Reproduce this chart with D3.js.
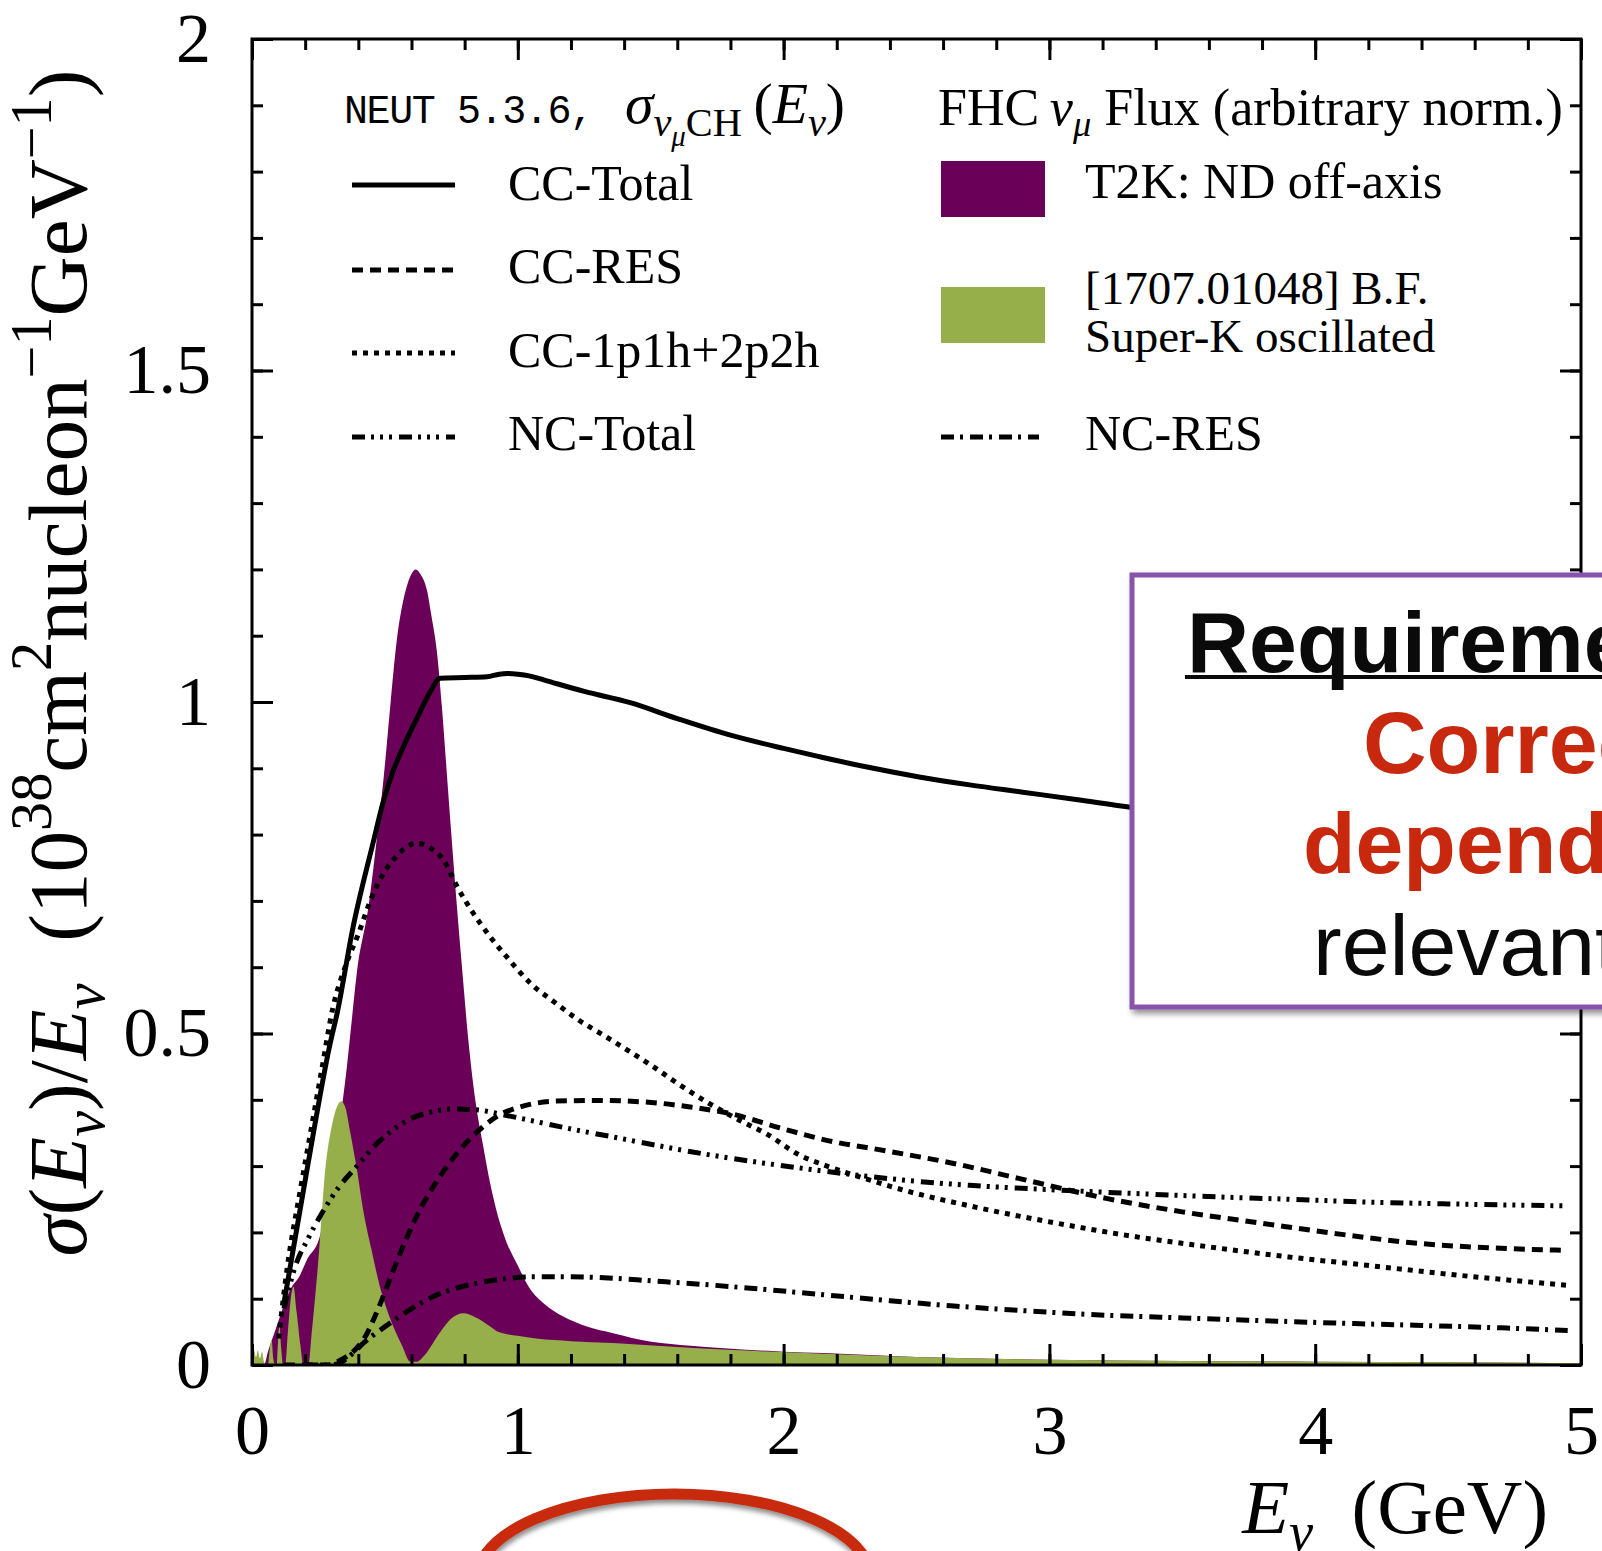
<!DOCTYPE html>
<html><head><meta charset="utf-8">
<script src="https://cdn.jsdelivr.net/npm/d3@7"></script>
<style>body{margin:0;background:#fff}svg{display:block}</style>
</head><body>
<svg id="c" width="1602" height="1551"></svg>
<script>
// ---------------- data (E in GeV, value in 1e-38 cm^2/nucleon/GeV) ----------------
const ccTotal = [[0.12,0.093],[0.205,0.29],[0.294,0.485],[0.32,0.53],[0.38,0.66],[0.457,0.79],[0.494,0.85],[0.53,0.895],[0.57,0.933],[0.62,0.975],[0.67,1.015],[0.708,1.036],[0.8,1.037],[0.884,1.038],[0.93,1.042],[0.96,1.043],[1.0,1.042],[1.047,1.039],[1.1,1.033],[1.25,1.016],[1.423,0.999],[1.6,0.975],[1.8,0.95],[2.0,0.93],[2.13,0.918],[2.3,0.903],[2.51,0.887],[2.7,0.875],[2.9,0.864],[3.1,0.853],[3.31,0.841],[3.6,0.83],[4.0,0.815],[4.5,0.8],[4.95,0.787]];
const ccRes = [[0.12,0.0],[0.2,0.0],[0.28,0.0],[0.335,0.008],[0.38,0.02],[0.422,0.04],[0.47,0.08],[0.522,0.133],[0.58,0.19],[0.638,0.239],[0.7,0.28],[0.753,0.31],[0.81,0.337],[0.868,0.359],[0.93,0.377],[0.998,0.388],[1.07,0.395],[1.142,0.398],[1.3,0.399],[1.502,0.396],[1.65,0.389],[1.79,0.38],[2.0,0.356],[2.15,0.34],[2.4,0.322],[2.64,0.304],[2.9,0.28],[3.218,0.251],[3.5,0.231],[3.795,0.214],[4.1,0.197],[4.374,0.184],[4.7,0.176],[4.95,0.173]];
const cc1p1h2p2h = [[0.1,0.04],[0.133,0.148],[0.18,0.26],[0.22,0.35],[0.26,0.44],[0.305,0.54],[0.35,0.6],[0.4,0.65],[0.45,0.705],[0.5,0.745],[0.545,0.768],[0.58,0.781],[0.62,0.787],[0.67,0.78],[0.72,0.762],[0.771,0.722],[0.83,0.683],[0.896,0.646],[0.97,0.61],[1.047,0.576],[1.142,0.546],[1.23,0.52],[1.32,0.498],[1.42,0.473],[1.502,0.452],[1.6,0.425],[1.718,0.395],[1.83,0.37],[1.934,0.349],[2.063,0.316],[2.15,0.302],[2.3,0.282],[2.449,0.264],[2.7,0.24],[3.026,0.214],[3.3,0.195],[3.603,0.178],[3.9,0.163],[4.18,0.151],[4.5,0.137],[4.95,0.12]];
const ncTotal = [[0.12,0.085],[0.162,0.148],[0.21,0.19],[0.263,0.229],[0.33,0.27],[0.393,0.299],[0.46,0.33],[0.522,0.352],[0.6,0.372],[0.668,0.381],[0.75,0.386],[0.84,0.385],[0.95,0.377],[1.07,0.367],[1.2,0.356],[1.358,0.344],[1.5,0.333],[1.647,0.322],[1.8,0.312],[1.934,0.304],[2.063,0.297],[2.2,0.29],[2.449,0.279],[2.7,0.271],[3.026,0.264],[3.3,0.259],[3.603,0.254],[3.9,0.25],[4.18,0.246],[4.5,0.243],[4.95,0.24]];
const ncRes = [[0.2,0.0],[0.3,0.0],[0.335,0.004],[0.38,0.018],[0.422,0.034],[0.48,0.052],[0.537,0.068],[0.6,0.085],[0.68,0.103],[0.77,0.116],[0.854,0.124],[0.95,0.13],[1.07,0.133],[1.2,0.133],[1.358,0.131],[1.5,0.127],[1.647,0.123],[1.9,0.115],[2.15,0.106],[2.4,0.097],[2.64,0.089],[2.9,0.082],[3.218,0.075],[3.5,0.071],[3.795,0.067],[4.1,0.063],[4.374,0.06],[4.7,0.056],[4.95,0.052]];
const fluxT2K = [[0,0],[0.045,0],[0.06,0.02],[0.09,0.055],[0.118,0.088],[0.143,0.113],[0.18,0.135],[0.206,0.158],[0.256,0.195],[0.28,0.24],[0.306,0.3],[0.33,0.365],[0.357,0.45],[0.378,0.53],[0.394,0.59],[0.438,0.691],[0.469,0.792],[0.497,0.893],[0.52,0.993],[0.545,1.094],[0.565,1.145],[0.582,1.174],[0.6,1.193],[0.616,1.2],[0.635,1.192],[0.658,1.169],[0.675,1.13],[0.695,1.078],[0.715,0.99],[0.733,0.892],[0.75,0.8],[0.771,0.691],[0.79,0.6],[0.814,0.49],[0.84,0.40],[0.87,0.33],[0.896,0.274],[0.925,0.225],[0.954,0.189],[1.0,0.15],[1.041,0.118],[1.1,0.092],[1.171,0.073],[1.26,0.058],[1.358,0.048],[1.502,0.035],[1.65,0.029],[1.79,0.025],[2.0,0.02],[2.15,0.018],[2.5,0.012],[3.0,0.008],[3.5,0.006],[4.0,0.005],[4.5,0.004],[5.0,0.003]];
const fluxSK = [[0,0.015],[0.008,0.022],[0.015,0.012],[0.022,0.022],[0.03,0.01],[0.038,0.02],[0.045,0.005],[0.052,0.0],[0.06,0.0],[0.067,0.025],[0.074,0.038],[0.08,0.01],[0.087,0.0],[0.093,0.0],[0.098,0.035],[0.103,0.06],[0.11,0.025],[0.117,0.0],[0.125,0.0],[0.135,0.05],[0.146,0.1],[0.156,0.118],[0.168,0.08],[0.182,0.03],[0.193,0.0],[0.212,0.0],[0.225,0.05],[0.248,0.15],[0.277,0.3],[0.3,0.36],[0.32,0.39],[0.335,0.398],[0.35,0.39],[0.37,0.35],[0.393,0.299],[0.42,0.23],[0.45,0.173],[0.48,0.12],[0.508,0.083],[0.54,0.05],[0.566,0.028],[0.595,0.005],[0.62,0.005],[0.65,0.015],[0.7,0.045],[0.75,0.07],[0.795,0.078],[0.84,0.072],[0.9,0.057],[0.926,0.05],[1.0,0.044],[1.07,0.04],[1.2,0.036],[1.358,0.033],[1.6,0.027],[1.79,0.023],[2.15,0.017],[2.5,0.012],[3.0,0.008],[3.5,0.006],[4.0,0.005],[4.5,0.004],[5.0,0.003]];

const xMajorTicks = [0,1,2,3,4,5];
const yMajorTicks = [0,0.5,1,1.5,2];
const xMinorStep = 0.2, yMinorStep = 0.1;

const lineSeries = [
  {name:"CC-Total", data:ccTotal, dash:null},
  {name:"CC-RES", data:ccRes, dash:"11,7"},
  {name:"CC-1p1h+2p2h", data:cc1p1h2p2h, dash:"5,6"},
  {name:"NC-Total", data:ncTotal, dash:"13,6,3,6,3,6,3,7"},
  {name:"NC-RES", data:ncRes, dash:"13,6,3,7"}
];
const fluxSeries = [
  {name:"T2K: ND off-axis", data:fluxT2K, color:"#6b0058"},
  {name:"Super-K oscillated", data:fluxSK, color:"#97af4a"}
];

// ---------------- setup ----------------
const W=1602, H=1551;
const SERIF="'Liberation Serif','Times New Roman',serif";
const SANS="'Liberation Sans',Arial,sans-serif";
const MONO="'Liberation Mono','DejaVu Sans Mono',monospace";
const M={l:252,r:1581,t:39,b:1365};
const svg=d3.select('#c');
const x=d3.scaleLinear().domain([0,5]).range([M.l,M.r]);
const y=d3.scaleLinear().domain([0,2]).range([M.b,M.t]);

const defs=svg.append('defs');
defs.append('clipPath').attr('id','plotclip').append('rect')
  .attr('x',M.l).attr('y',M.t).attr('width',M.r-M.l).attr('height',M.b-M.t);
const f1=defs.append('filter').attr('id','shadow').attr('x','-10%').attr('y','-10%').attr('width','130%').attr('height','130%');
f1.append('feDropShadow').attr('dx',3).attr('dy',4).attr('stdDeviation',3).attr('flood-color','#000').attr('flood-opacity',0.45);
const f2=defs.append('filter').attr('id','shadow2').attr('x','-10%').attr('y','-20%').attr('width','130%').attr('height','160%');
f2.append('feDropShadow').attr('dx',1).attr('dy',4).attr('stdDeviation',2.5).attr('flood-color','#000').attr('flood-opacity',0.45);

// ---------------- flux areas ----------------
const area=d3.area().x(d=>x(d[0])).y0(y(0)).y1(d=>y(d[1])).curve(d3.curveMonotoneX);
const plot=svg.append('g').attr('clip-path','url(#plotclip)');
plot.selectAll('path.flux').data(fluxSeries).join('path').attr('class','flux')
  .attr('d',d=>area(d.data)).attr('fill',d=>d.color).attr('stroke','none');

// ---------------- lines ----------------
const line=d3.line().x(d=>x(d[0])).y(d=>y(d[1])).curve(d3.curveMonotoneX);
plot.selectAll('path.xs').data(lineSeries).join('path').attr('class','xs')
  .attr('d',d=>line(d.data)).attr('fill','none').attr('stroke','#000')
  .attr('stroke-width',5).attr('stroke-dasharray',d=>d.dash).attr('stroke-linecap','butt').attr('stroke-linejoin','round');

// ---------------- axes ----------------
const xMinor=d3.range(0,5+1e-9,xMinorStep).map(v=>+v.toFixed(2));
const yMinor=d3.range(0,2+1e-9,yMinorStep).map(v=>+v.toFixed(2));
function styleAxis(g){
  g.select('.domain').remove();
  g.selectAll('line').attr('stroke','#000').attr('stroke-width',3);
  g.selectAll('text').attr('font-family',SERIF).attr('font-size',70).attr('fill','#000');
}
svg.append('g').attr('transform',`translate(0,${M.b})`).call(d3.axisBottom(x).tickValues(xMinor).tickSize(-11).tickFormat('')).call(styleAxis);
svg.append('g').attr('transform',`translate(0,${M.b})`).call(d3.axisBottom(x).tickValues(xMajorTicks).tickSize(-21).tickPadding(39).tickFormat(d=>String(d))).call(styleAxis);
svg.append('g').attr('transform',`translate(0,${M.t})`).call(d3.axisTop(x).tickValues(xMinor).tickSize(-11).tickFormat('')).call(styleAxis);
svg.append('g').attr('transform',`translate(0,${M.t})`).call(d3.axisTop(x).tickValues(xMajorTicks).tickSize(-21).tickFormat('')).call(styleAxis);
svg.append('g').attr('transform',`translate(${M.l},0)`).call(d3.axisLeft(y).tickValues(yMinor).tickSize(-11).tickFormat('')).call(styleAxis);
svg.append('g').attr('transform',`translate(${M.l},0)`).call(d3.axisLeft(y).tickValues(yMajorTicks).tickSize(-21).tickPadding(41).tickFormat(d=>String(d))).call(styleAxis);
svg.append('g').attr('transform',`translate(${M.r},0)`).call(d3.axisRight(y).tickValues(yMinor).tickSize(-11).tickFormat('')).call(styleAxis);
svg.append('g').attr('transform',`translate(${M.r},0)`).call(d3.axisRight(y).tickValues(yMajorTicks).tickSize(-21).tickFormat('')).call(styleAxis);
svg.append('rect').attr('x',M.l).attr('y',M.t).attr('width',M.r-M.l).attr('height',M.b-M.t)
  .attr('fill','none').attr('stroke','#000').attr('stroke-width',3);

// ---------------- rich text helper ----------------
function rich(sel, parts, fs){
  sel.selectAll('tspan').remove();
  let cur=0;
  parts.forEach(p=>{
    const l=p.l||0;
    const shift = l===1?0.22*fs : l===2?0.40*fs : l===-1?-0.42*fs : 0;
    const size = l===0?fs : l===2?0.5*fs : 0.7*fs;
    const t=sel.append('tspan').text(p.t).attr('dy',shift-cur).attr('font-size',size)
      .attr('font-style',p.i?'italic':'normal');
    if(p.f) t.attr('font-family',p.f);
    cur=shift;
  });
}
function fitRich(sel, parts, fs0, target){
  rich(sel, parts, fs0);
  const w=sel.node().getBBox().width;
  rich(sel, parts, fs0*target/w);
}

// y-axis title
const yl=svg.append('text').attr('transform','translate(86,663) rotate(-90)')
  .attr('text-anchor','middle').attr('font-family',SERIF).attr('fill','#000');
fitRich(yl,[{t:'σ',i:1},{t:'('},{t:'E',i:1},{t:'ν',i:1,l:1},{t:')/'},{t:'E',i:1},{t:'ν',i:1,l:1},
  {t:'\u2002(10'},{t:'38',l:-1},{t:'cm'},{t:'2',l:-1},{t:'nucleon'},{t:'−1',l:-1},{t:'GeV'},{t:'−1',l:-1},{t:')'}],72,1187);

// x-axis title
const xl=svg.append('text').attr('x',1548).attr('y',1533).attr('text-anchor','end')
  .attr('font-family',SERIF).attr('fill','#000');
fitRich(xl,[{t:'E',i:1},{t:'ν',i:1,l:1},{t:'\u2002(GeV)'}],70,307);

// ---------------- legend ----------------
const LFS=50;
svg.append('text').attr('x',344).attr('y',123).attr('font-family',MONO).attr('font-size',40)
  .attr('letter-spacing',-1.4).attr('fill','#000').attr('xml:space','preserve').text('NEUT 5.3.6,');
const lh=svg.append('text').attr('x',625).attr('y',123).attr('font-family',SERIF).attr('fill','#000');
fitRich(lh,[{t:'σ',i:1},{t:'ν',i:1,l:1},{t:'μ',i:1,l:2},{t:'CH',l:1},{t:'\u2009(',l:0},{t:'E',i:1},{t:'ν',i:1,l:1},{t:')'}],48,220);

const legLeft=[
  {s:lineSeries[0], ly:185, ty:200},
  {s:lineSeries[1], ly:270, ty:283},
  {s:lineSeries[2], ly:353, ty:367},
  {s:lineSeries[3], ly:437, ty:450}
];
legLeft.forEach(e=>{
  svg.append('line').attr('x1',352).attr('x2',455).attr('y1',e.ly).attr('y2',e.ly)
    .attr('stroke','#000').attr('stroke-width',5).attr('stroke-dasharray',e.s.dash);
  svg.append('text').attr('x',508).attr('y',e.ty).attr('font-family',SERIF).attr('font-size',LFS)
    .attr('fill','#000').text(e.s.name);
});

const rh=svg.append('text').attr('x',938).attr('y',125).attr('font-family',SERIF).attr('fill','#000');
fitRich(rh,[{t:'FHC\u2009'},{t:'ν',i:1},{t:'μ',i:1,l:1},{t:' Flux (arbitrary norm.)'}],48,625);

svg.append('rect').attr('x',941).attr('y',161).attr('width',104).attr('height',56).attr('fill',fluxSeries[0].color);
svg.append('text').attr('x',1085).attr('y',198).attr('font-family',SERIF).attr('font-size',LFS).attr('fill','#000').text(fluxSeries[0].name);
svg.append('rect').attr('x',941).attr('y',287).attr('width',104).attr('height',56).attr('fill',fluxSeries[1].color);
const skText=svg.append('text').attr('font-family',SERIF).attr('font-size',47).attr('fill','#000');
skText.append('tspan').attr('x',1085).attr('y',304).text('[1707.01048] B.F.');
skText.append('tspan').attr('x',1085).attr('y',352).text(fluxSeries[1].name);
svg.append('line').attr('x1',941).attr('x2',1039).attr('y1',437).attr('y2',437)
  .attr('stroke','#000').attr('stroke-width',5).attr('stroke-dasharray',lineSeries[4].dash);
svg.append('text').attr('x',1085).attr('y',450).attr('font-family',SERIF).attr('font-size',LFS).attr('fill','#000').text(lineSeries[4].name);

// ---------------- annotation box ----------------
svg.append('rect').attr('x',1132).attr('y',575).attr('width',620).attr('height',432)
  .attr('fill','#fff').attr('stroke','#8853aa').attr('stroke-width',5).attr('filter','url(#shadow)');
svg.append('text').attr('x',1187).attr('y',672).attr('font-family',SANS).attr('font-weight','bold')
  .attr('font-size',86).attr('fill','#0a0a0a').text('Requirements:');
svg.append('line').attr('x1',1185).attr('x2',W).attr('y1',677).attr('y2',677).attr('stroke','#0a0a0a').attr('stroke-width',4);
svg.append('text').attr('x',1363).attr('y',773).attr('font-family',SANS).attr('font-weight','bold')
  .attr('font-size',88).attr('fill','#c8290e').text('Correct E');
svg.append('text').attr('x',1303).attr('y',873).attr('font-family',SANS).attr('font-weight','bold')
  .attr('font-size',86).attr('fill','#c8290e').text('dependence');
svg.append('text').attr('x',1313).attr('y',975).attr('font-family',SANS)
  .attr('font-size',86).attr('fill','#0a0a0a').text('relevant region');

// ---------------- red ellipse ----------------
svg.append('ellipse').attr('cx',674).attr('cy',1579).attr('rx',197).attr('ry',85)
  .attr('fill','none').attr('stroke','#c8290e').attr('stroke-width',11).attr('filter','url(#shadow2)');
</script>
</body></html>
